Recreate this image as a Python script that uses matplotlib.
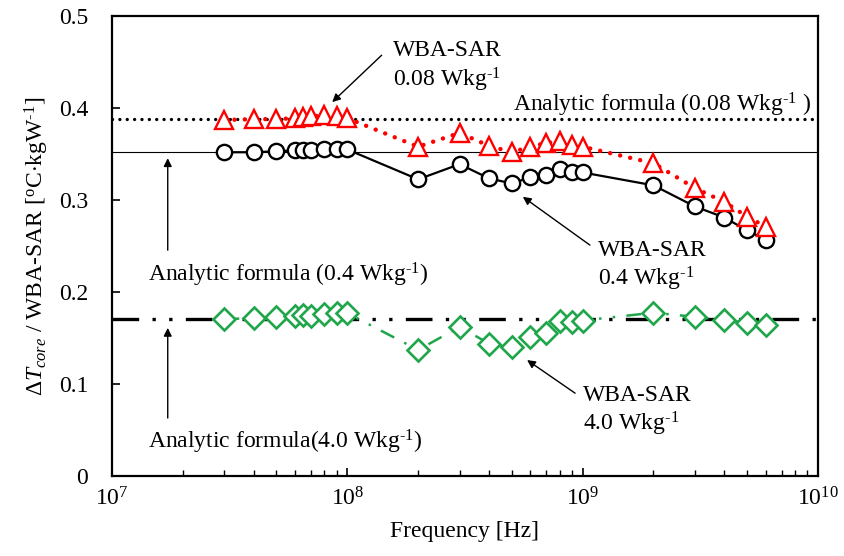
import matplotlib
matplotlib.use('Agg')
import matplotlib.pyplot as plt
import numpy as np

plt.rcParams['font.family'] = ['Liberation Serif', 'DejaVu Serif']
plt.rcParams['mathtext.fontset'] = 'custom'
plt.rcParams['mathtext.rm'] = 'Liberation Serif'
plt.rcParams['mathtext.it'] = 'Liberation Serif:italic'
plt.rcParams['font.size'] = 17

# frequencies in MHz
freq_mhz = [30, 40, 50, 60, 65, 70, 80, 90, 100, 200, 300, 400, 500, 600, 700,
            800, 900, 1000, 2000, 3000, 4000, 5000, 6000]
freq = np.array(freq_mhz) * 1e6

# WBA-SAR 0.08 W/kg
sar_008 = [0.387, 0.388, 0.388, 0.389, 0.390, 0.391, 0.392, 0.391, 0.389, 0.358, 0.373,
           0.359, 0.352, 0.358, 0.362, 0.364, 0.360, 0.358, 0.340, 0.313, 0.298, 0.282, 0.271]
# WBA-SAR 0.4 W/kg
sar_04 = [0.352, 0.352, 0.353, 0.354, 0.354, 0.354, 0.355, 0.355, 0.355, 0.3225, 0.339,
          0.3236, 0.318, 0.3247, 0.327, 0.334, 0.331, 0.330, 0.316, 0.293, 0.281, 0.267, 0.257]
# WBA-SAR 4.0 W/kg
sar_40 = [0.1707, 0.1714, 0.173, 0.174, 0.175, 0.174, 0.176, 0.177, 0.177, 0.137, 0.162,
          0.144, 0.140, 0.151, 0.155, 0.168, 0.167, 0.169, 0.1775, 0.173, 0.1696, 0.1666, 0.164]

# analytic formula values
analytic_008 = 0.388
analytic_04 = 0.3525
analytic_40 = 0.1707

green = '#1fa64a'
inv = r'$^{\text{-1}}$'

fig = plt.figure(figsize=(8.45, 5.56), dpi=100)
ax = fig.add_axes([0.1325, 0.144, 0.8355, 0.827])

ax.set_xscale('log')
ax.set_xlim(1e7, 1e10)
ax.set_ylim(0, 0.5)

# analytic lines
ax.axhline(analytic_008, color='black', lw=2.4, linestyle=(0, (0.01, 2.2)),
           dash_capstyle='round', zorder=2)
ax.axhline(analytic_04, color='black', lw=0.8, zorder=2)
ax.axhline(analytic_40, color='black', lw=2.4, linestyle=(0, (8, 4, 1, 4, 1, 4)), zorder=2)

# simulated series
ax.plot(freq, sar_04, color='black', lw=1.6, marker='o', ms=11, mfc='white',
        mec='black', mew=1.7, zorder=3)
ax.plot(freq, sar_008, color='red', lw=3.2, linestyle=(0, (0.01, 2.3)), dash_capstyle='round',
        marker='^', ms=13, mfc='white', mec='red', mew=1.7, zorder=4)
ax.plot(freq, sar_40, color=green, lw=1.8, linestyle=(0, (6, 4.5, 1, 4.5, 1, 4.5)),
        marker='D', ms=11, mfc='white', mec=green, mew=1.9, zorder=4)

ax.set_yticks([0, 0.1, 0.2, 0.3, 0.4, 0.5])
ax.set_yticklabels(['0', '0.1', '0.2', '0.3', '0.4', '0.5'])
ax.tick_params(axis='both', which='major', direction='in', length=6, width=1.2, labelsize=17)
ax.tick_params(axis='y', pad=17)
ax.tick_params(axis='x', which='major', pad=8)
ax.tick_params(axis='x', which='minor', direction='in', length=4, width=1.0)
for s in ax.spines.values():
    s.set_linewidth(1.6)

ax.set_xlabel('Frequency [Hz]', fontsize=17, labelpad=8)
ax.set_ylabel(r'$\Delta \mathit{T}_{\mathit{core}}$ / WBA-SAR [$^{\rm o}$C$\cdot$kgW' + inv + ']',
              fontsize=17, labelpad=6)

arrow = dict(arrowstyle='-|>', color='black', lw=1, mutation_scale=12, shrinkA=0, shrinkB=0)

ax.annotate('', xy=(0.312, 0.813), xytext=(0.382, 0.915), xycoords='axes fraction',
            arrowprops=arrow)
ax.text(0.398, 0.889, 'WBA-SAR\n0.08 Wkg' + inv, transform=ax.transAxes,
        ha='left', va='center', linespacing=1.2)
ax.text(0.568, 0.807, 'Analytic formula (0.08 Wkg' + inv + ' )', transform=ax.transAxes,
        ha='left', va='center')

ax.annotate('', xy=(0.079, 0.691), xytext=(0.079, 0.491), xycoords='axes fraction',
            arrowprops=arrow)
ax.text(0.051, 0.437, 'Analytic formula (0.4 Wkg' + inv + ')', transform=ax.transAxes,
        ha='left', va='center')

ax.annotate('', xy=(0.582, 0.607), xytext=(0.677, 0.502), xycoords='axes fraction',
            arrowprops=arrow)
ax.text(0.688, 0.455, 'WBA-SAR\n0.4 Wkg' + inv, transform=ax.transAxes,
        ha='left', va='center', linespacing=1.2)

ax.annotate('', xy=(0.079, 0.322), xytext=(0.079, 0.126), xycoords='axes fraction',
            arrowprops=arrow)
ax.text(0.051, 0.074, 'Analytic formula(4.0 Wkg' + inv + ')', transform=ax.transAxes,
        ha='left', va='center')

ax.annotate('', xy=(0.588, 0.252), xytext=(0.656, 0.180), xycoords='axes fraction',
            arrowprops=arrow)
ax.text(0.667, 0.140, 'WBA-SAR\n4.0 Wkg' + inv, transform=ax.transAxes,
        ha='left', va='center', linespacing=1.2)

fig.savefig('out.png', dpi=100)
